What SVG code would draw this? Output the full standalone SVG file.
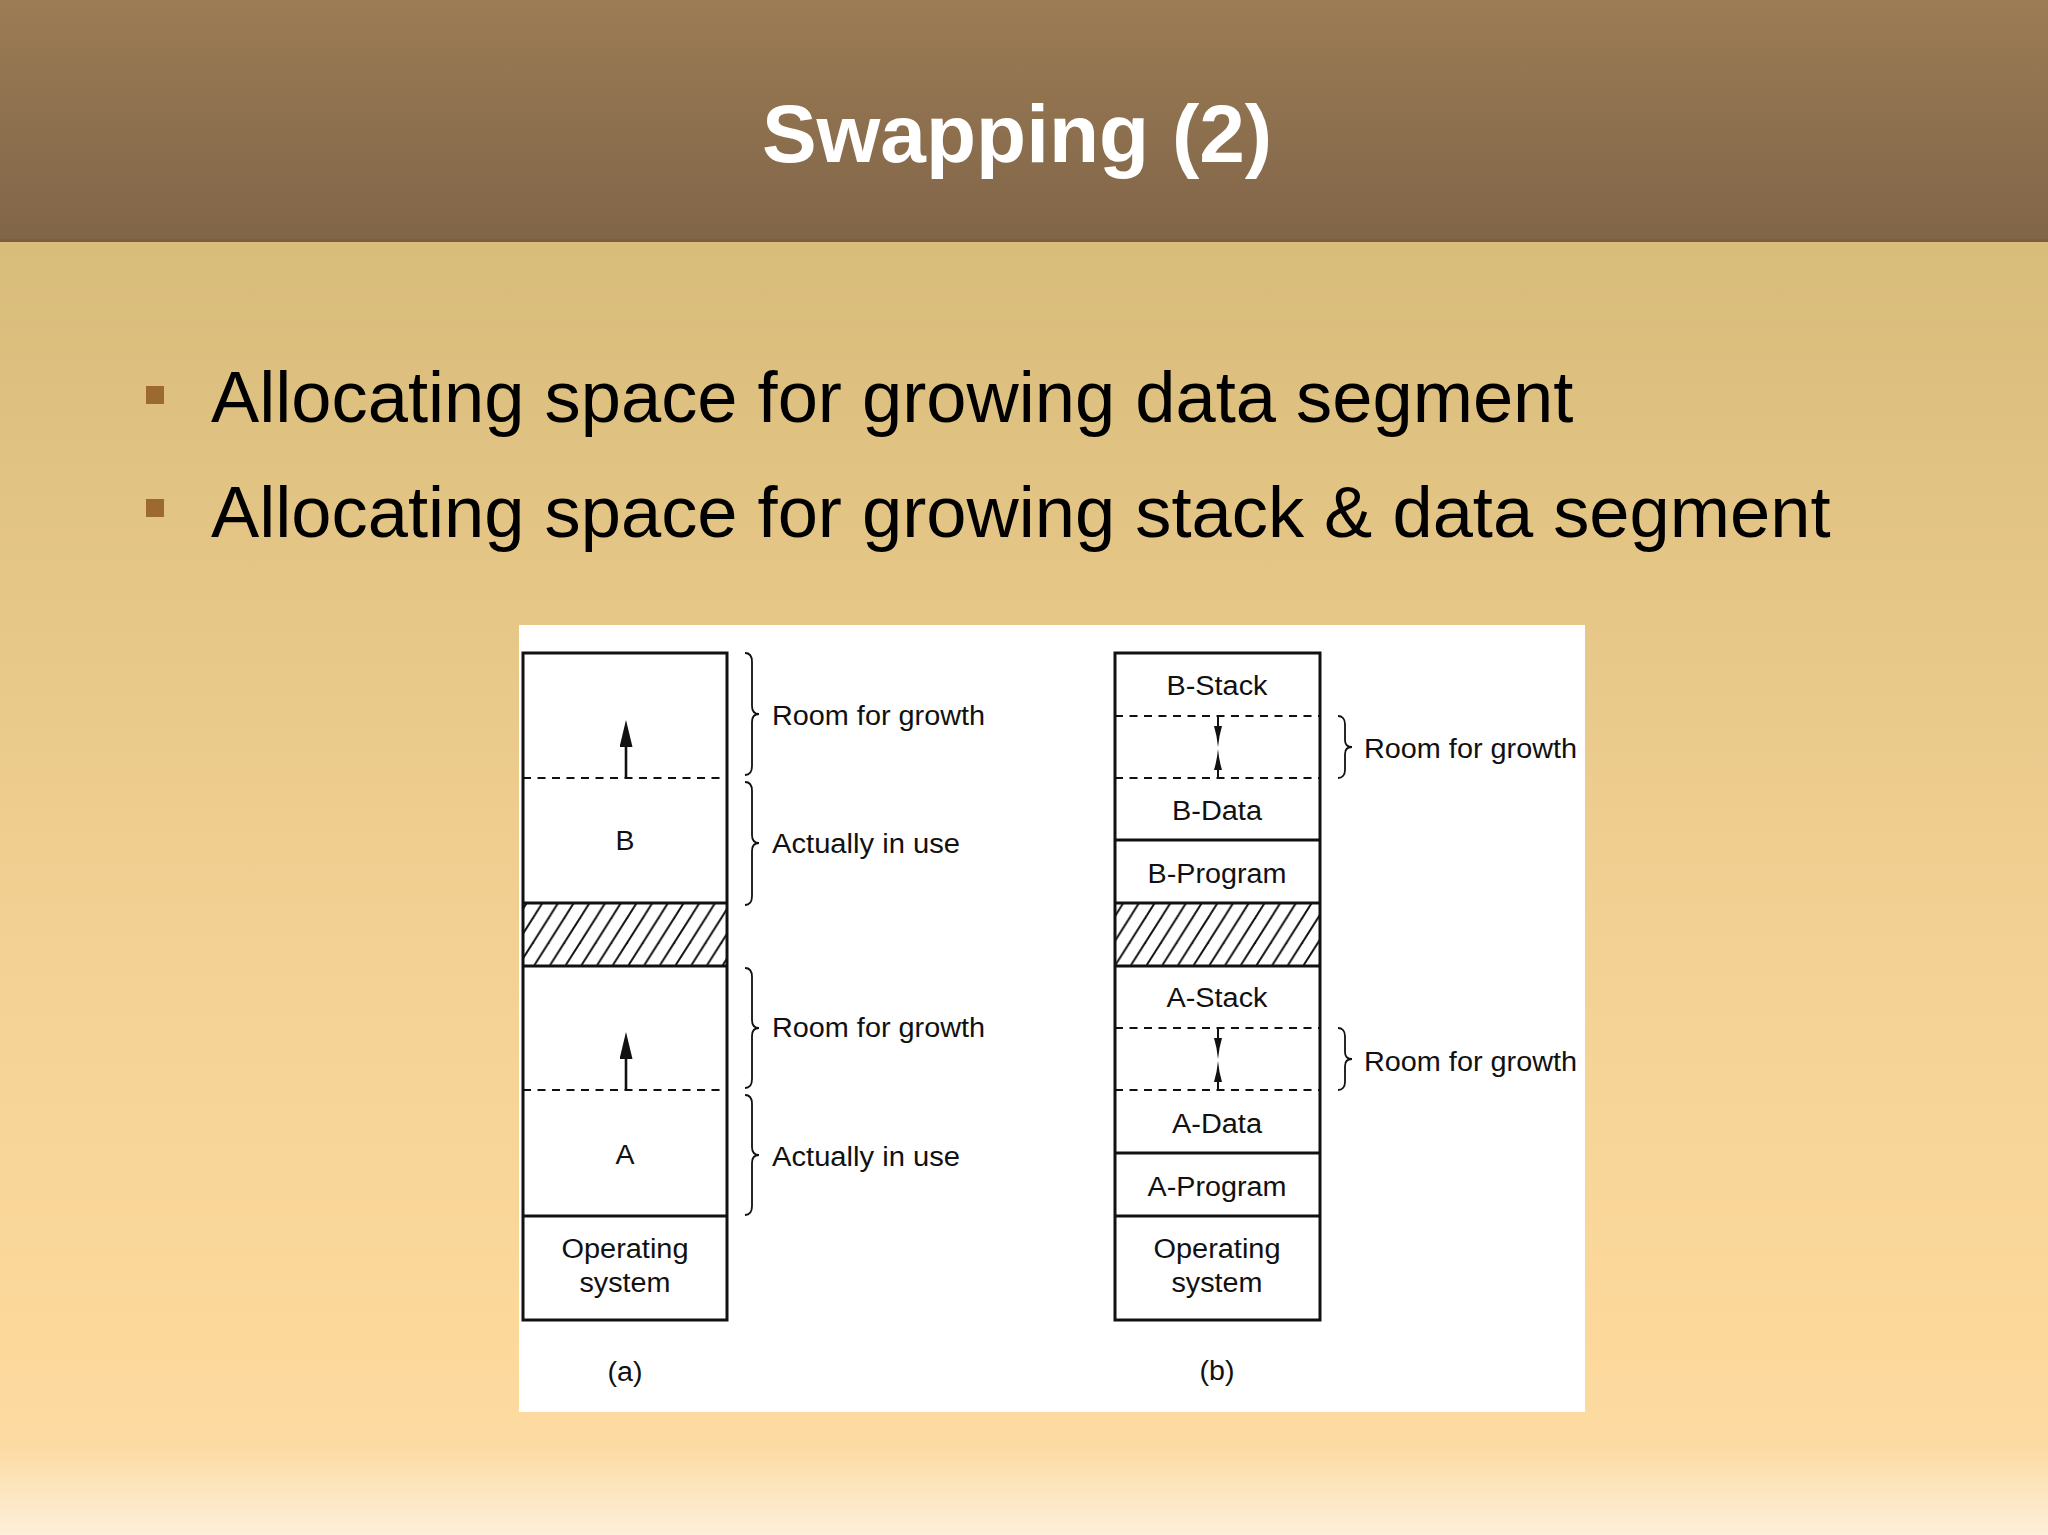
<svg xmlns="http://www.w3.org/2000/svg" width="2048" height="1535" viewBox="0 0 2048 1535">
  <defs>
    <linearGradient id="hdrGrad" x1="0" y1="0" x2="0" y2="1">
      <stop offset="0" stop-color="#9b7c55"/>
      <stop offset="1" stop-color="#816548"/>
    </linearGradient>
    <linearGradient id="bodyGrad" x1="0" y1="0" x2="0" y2="1">
      <stop offset="0" stop-color="#d8bc7a"/>
      <stop offset="0.55" stop-color="#f3d194"/>
      <stop offset="0.85" stop-color="#fcd89b"/>
      <stop offset="0.93" stop-color="#fcdba2"/>
      <stop offset="1" stop-color="#fdefda"/>
    </linearGradient>
    <pattern id="hatch" patternUnits="userSpaceOnUse" x="0" y="903" width="15.7" height="63">
      <line x1="0" y1="63" x2="40" y2="0" stroke="#111" stroke-width="2"/>
      <line x1="-15.7" y1="63" x2="24.3" y2="0" stroke="#111" stroke-width="2"/>
      <line x1="-31.4" y1="63" x2="8.6" y2="0" stroke="#111" stroke-width="2"/>
    </pattern>
    <marker id="headWide" markerUnits="userSpaceOnUse" viewBox="0 0 27 13" refX="0" refY="6.5" markerWidth="27" markerHeight="13" orient="auto">
      <path d="M0,0 L27,6.5 L0,13 Z" fill="#111"/>
    </marker>
    <marker id="headNarrow" markerUnits="userSpaceOnUse" viewBox="0 0 21 8" refX="0" refY="4" markerWidth="21" markerHeight="8" orient="auto">
      <path d="M0,0 Q10,3 21,4 Q10,5 0,8 Z" fill="#111"/>
    </marker>
  </defs>
  <style>
    .fig { font-family: "Liberation Sans", Arial, Helvetica, sans-serif; font-size: 27px; fill: #111; }
    .mid { text-anchor: middle; }
    .box { fill: none; stroke: #111; stroke-width: 3; }
    .solid { stroke: #111; stroke-width: 3; }
    .dash { stroke: #111; stroke-width: 2; stroke-dasharray: 8 6.5; }
    .brace { fill: none; stroke: #111; stroke-width: 1.8; }
    .arr { stroke: #111; stroke-width: 2.6; fill: none; }
    .arrn { stroke: #111; stroke-width: 2; fill: none; }
    .bullet { font-family: "Liberation Sans", Arial, Helvetica, sans-serif; font-size: 72.3px; fill: #000; }
  </style>

  <!-- background -->
  <rect x="0" y="242" width="2048" height="1293" fill="url(#bodyGrad)"/>
  <g id="header">
    <rect x="0" y="0" width="2048" height="241" fill="url(#hdrGrad)"/>
    <rect x="0" y="239" width="2048" height="3" fill="#7a5e3f"/>
    <text x="1017" y="162" text-anchor="middle" font-family="Liberation Sans, Arial, Helvetica, sans-serif" font-size="82" font-weight="bold" fill="#ffffff">Swapping (2)</text>
  </g>

  <g id="bullets">
    <rect x="146" y="386" width="18" height="18" fill="#9c6a30"/>
    <text class="bullet" x="211" y="422">Allocating space for growing data segment</text>
    <rect x="146" y="499" width="18" height="18" fill="#9c6a30"/>
    <text class="bullet" x="211" y="537">Allocating space for growing stack &amp; data segment</text>
  </g>

  <g id="figure">
    <rect x="519" y="625" width="1066" height="787" fill="#ffffff"/>

    <!-- (a) -->
    <g id="mem-a">
      <g id="a-room-b">
        <line class="dash" x1="523" y1="778" x2="727" y2="778"/>
      </g>
      <g id="a-used-b">
        <text class="fig mid" x="625" y="850" textLength="19" lengthAdjust="spacingAndGlyphs">B</text>
      </g>
      <g id="a-hole">
        <rect x="523" y="903" width="204" height="63" fill="url(#hatch)"/>
        <line class="solid" x1="523" y1="903" x2="727" y2="903"/>
        <line class="solid" x1="523" y1="966" x2="727" y2="966"/>
      </g>
      <g id="a-room-a">
        <line class="dash" x1="523" y1="1090" x2="727" y2="1090"/>
      </g>
      <g id="a-used-a">
        <text class="fig mid" x="625" y="1164" textLength="19" lengthAdjust="spacingAndGlyphs">A</text>
        <line class="solid" x1="523" y1="1216" x2="727" y2="1216"/>
      </g>
      <g id="a-os">
        <text class="fig mid" x="625" y="1258" textLength="127" lengthAdjust="spacingAndGlyphs">Operating</text>
        <text class="fig mid" x="625" y="1292" textLength="91" lengthAdjust="spacingAndGlyphs">system</text>
      </g>
      <rect class="box" x="523" y="653" width="204" height="667"/>
      <text class="fig mid" x="625" y="1381" textLength="35" lengthAdjust="spacingAndGlyphs">(a)</text>
    </g>

    <g id="labels-a">
      <path class="brace" d="M745,653 C750,653 752,656 752,662 L752,706 C752,711 754,714 759,714 C754,714 752,717 752,722 L752,766 C752,772 750,775 745,775"/>
      <text class="fig" x="772" y="725" textLength="213" lengthAdjust="spacingAndGlyphs">Room for growth</text>
      <path class="brace" d="M745,782 C750,782 752,785 752,791 L752,835 C752,840 754,843 759,843 C754,843 752,846 752,851 L752,896 C752,902 750,905 745,905"/>
      <text class="fig" x="772" y="853" textLength="188" lengthAdjust="spacingAndGlyphs">Actually in use</text>
      <path class="brace" d="M745,968 C750,968 752,971 752,977 L752,1020 C752,1025 754,1028 759,1028 C754,1028 752,1031 752,1036 L752,1079 C752,1085 750,1088 745,1088"/>
      <text class="fig" x="772" y="1037" textLength="213" lengthAdjust="spacingAndGlyphs">Room for growth</text>
      <path class="brace" d="M745,1095 C750,1095 752,1098 752,1104 L752,1147 C752,1152 754,1155 759,1155 C754,1155 752,1158 752,1163 L752,1206 C752,1212 750,1215 745,1215"/>
      <text class="fig" x="772" y="1166" textLength="188" lengthAdjust="spacingAndGlyphs">Actually in use</text>
    </g>

    <!-- (b) -->
    <g id="mem-b">
      <g id="b-bstack">
        <text class="fig mid" x="1217" y="695" textLength="101" lengthAdjust="spacingAndGlyphs">B-Stack</text>
      </g>
      <g id="b-broom">
        <line class="dash" x1="1115" y1="716" x2="1320" y2="716"/>
        <line class="dash" x1="1115" y1="778" x2="1320" y2="778"/>
      </g>
      <g id="b-bdata">
        <text class="fig mid" x="1217" y="820" textLength="90" lengthAdjust="spacingAndGlyphs">B-Data</text>
        <line class="solid" x1="1115" y1="840" x2="1320" y2="840"/>
      </g>
      <g id="b-bprog">
        <text class="fig mid" x="1217" y="883" textLength="139" lengthAdjust="spacingAndGlyphs">B-Program</text>
      </g>
      <g id="b-hole">
        <rect x="1115" y="903" width="205" height="63" fill="url(#hatch)"/>
        <line class="solid" x1="1115" y1="903" x2="1320" y2="903"/>
        <line class="solid" x1="1115" y1="966" x2="1320" y2="966"/>
      </g>
      <g id="b-astack">
        <text class="fig mid" x="1217" y="1007" textLength="101" lengthAdjust="spacingAndGlyphs">A-Stack</text>
      </g>
      <g id="b-aroom">
        <line class="dash" x1="1115" y1="1028" x2="1320" y2="1028"/>
        <line class="dash" x1="1115" y1="1090" x2="1320" y2="1090"/>
      </g>
      <g id="b-adata">
        <text class="fig mid" x="1217" y="1133" textLength="90" lengthAdjust="spacingAndGlyphs">A-Data</text>
        <line class="solid" x1="1115" y1="1153" x2="1320" y2="1153"/>
      </g>
      <g id="b-aprog">
        <text class="fig mid" x="1217" y="1196" textLength="139" lengthAdjust="spacingAndGlyphs">A-Program</text>
        <line class="solid" x1="1115" y1="1216" x2="1320" y2="1216"/>
      </g>
      <g id="b-os">
        <text class="fig mid" x="1217" y="1258" textLength="127" lengthAdjust="spacingAndGlyphs">Operating</text>
        <text class="fig mid" x="1217" y="1292" textLength="91" lengthAdjust="spacingAndGlyphs">system</text>
      </g>
      <rect class="box" x="1115" y="653" width="205" height="667"/>
      <text class="fig mid" x="1217" y="1380" textLength="35" lengthAdjust="spacingAndGlyphs">(b)</text>
    </g>

    <g id="labels-b">
      <path class="brace" d="M1338,716 C1342,716 1345,719 1345,724 L1345,740 C1345,745 1347,747 1352,747 C1347,747 1345,749 1345,754 L1345,770 C1345,775 1342,778 1338,778"/>
      <text class="fig" x="1364" y="758" textLength="213" lengthAdjust="spacingAndGlyphs">Room for growth</text>
      <path class="brace" d="M1338,1028 C1342,1028 1345,1031 1345,1036 L1345,1052 C1345,1057 1347,1059 1352,1059 C1347,1059 1345,1061 1345,1066 L1345,1082 C1345,1087 1342,1090 1338,1090"/>
      <text class="fig" x="1364" y="1071" textLength="213" lengthAdjust="spacingAndGlyphs">Room for growth</text>
    </g>
  </g>

  <g id="connectors">
    <line class="arr" x1="626" y1="778" x2="626" y2="747" marker-end="url(#headWide)"/>
    <line class="arr" x1="626" y1="1090" x2="626" y2="1059" marker-end="url(#headWide)"/>
    <line class="arrn" x1="1218" y1="716" x2="1218" y2="726" marker-end="url(#headNarrow)"/>
    <line class="arrn" x1="1218" y1="778" x2="1218" y2="770" marker-end="url(#headNarrow)"/>
    <line class="arrn" x1="1218" y1="1028" x2="1218" y2="1038" marker-end="url(#headNarrow)"/>
    <line class="arrn" x1="1218" y1="1090" x2="1218" y2="1082" marker-end="url(#headNarrow)"/>
  </g>
</svg>
